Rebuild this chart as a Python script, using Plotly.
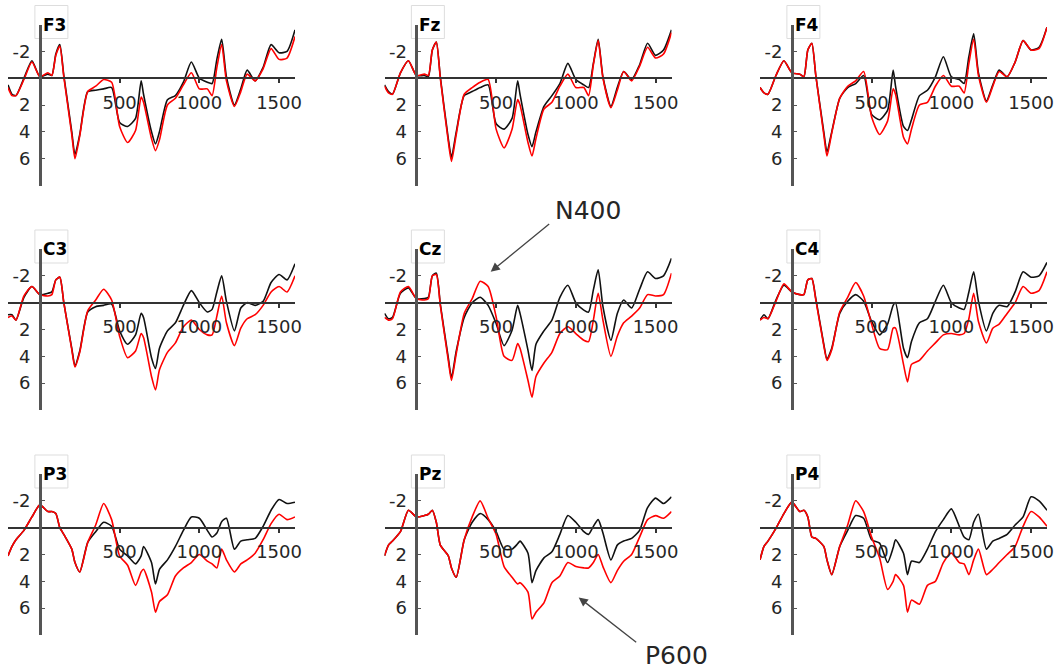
import plotly.graph_objects as go

# ---------------- data ----------------
TIME_MS = [-200, -175, -150, -100, -50, 0, 50, 75, 100, 125, 150, 200, 220, 250, 300, 350, 400, 450,
           500, 550, 600, 635, 650, 700, 725, 750, 800, 850, 900, 950, 1000, 1050, 1080, 1110, 1140,
           1170, 1220, 1260, 1300, 1350, 1400, 1450, 1500, 1550, 1600]

PANELS = ["F3", "Fz", "F4", "C3", "Cz", "C4", "P3", "Pz", "P4"]

F3_BLACK = [0.5, 1.2, 1.3, 0.0, -1.3, -0.1, -0.3, -0.2, -1.8, -2.5, -0.2, 4.0, 5.7, 4.2, 1.0, 0.9, 0.8, 0.7,
            3.3, 3.6, 3.0, 0.2, 1.2, 4.0, 4.9, 4.0, 1.6, 1.3, 0.3, -1.2, 0.0, 0.3, 0.4, -1.4, -2.9,
            -0.1, 2.0, 0.8, -0.6, 0.2, -0.8, -2.5, -1.9, -2.0, -3.6]
F3_RED = [0.7, 1.3, 1.3, 0.1, -1.2, -0.1, -0.4, -0.2, -1.7, -2.4, -0.1, 4.2, 6.0, 4.3, 1.0, 0.6, 0.1, 0.3,
          3.6, 4.8, 3.9, 1.4, 1.8, 4.5, 5.4, 4.6, 2.0, 1.5, 0.5, -0.4, 0.8, 0.8, 1.3, -0.8, -2.5,
          0.2, 2.1, 1.0, -0.3, 0.2, -0.7, -2.2, -1.4, -1.5, -3.1]

FZ_BLACK = [0.5, 1.0, 1.2, -0.4, -1.3, -0.2, -0.2, -0.1, -2.1, -2.7, -0.1, 4.5, 5.9, 4.0, 1.3, 1.0, 0.7, 0.5,
            3.4, 3.8, 3.0, 0.2, 1.2, 4.2, 5.1, 4.0, 2.1, 1.3, 0.4, -1.1, 0.1, 0.5, 0.7, -1.1, -2.9,
            -0.1, 2.1, 0.7, -0.5, 0.1, -1.0, -2.6, -1.7, -2.1, -3.6]
FZ_RED = [0.6, 1.1, 1.2, -0.4, -1.3, -0.2, -0.3, -0.2, -2.1, -2.7, 0.0, 4.7, 6.2, 4.2, 1.2, 0.7, 0.3, 0.1,
          3.8, 5.2, 3.8, 1.6, 2.0, 4.8, 5.8, 4.5, 2.3, 1.8, 0.6, -0.3, 0.7, 0.7, 1.3, -1.0, -2.8,
          0.0, 2.2, 0.9, -0.5, 0.2, -0.9, -2.3, -1.5, -1.8, -3.4]

F4_BLACK = [0.7, 1.1, 1.2, -0.2, -1.3, -0.4, -0.3, -0.1, -2.1, -2.6, -0.2, 4.0, 5.5, 4.0, 1.5, 0.7, 0.4, -0.2,
            2.7, 3.1, 2.4, -0.6, 0.6, 3.6, 3.9, 3.1, 1.3, 0.9, -0.1, -1.6, -0.1, 0.1, 0.4, -1.6, -3.3,
            -0.4, 1.7, 0.5, -0.6, -0.1, -1.2, -2.8, -2.1, -2.3, -3.8]
F4_RED = [0.7, 1.1, 1.2, -0.2, -1.3, -0.4, -0.3, -0.1, -2.1, -2.6, -0.2, 4.2, 5.8, 4.1, 1.5, 0.6, 0.2, -0.5,
          2.9, 4.2, 3.2, 0.8, 1.2, 4.4, 4.9, 3.8, 2.0, 1.8, 0.6, -0.2, 0.6, 0.6, 1.1, -1.1, -2.9,
          -0.2, 1.8, 0.6, -0.5, -0.1, -1.2, -2.8, -2.1, -2.2, -3.8]

C3_BLACK = [0.9, 0.9, 1.3, -0.4, -1.2, -0.6, -0.7, -0.8, -1.7, -1.9, 0.0, 3.4, 4.7, 3.6, 0.7, 0.3, 0.2, 0.1,
            2.1, 3.1, 2.4, 0.8, 1.1, 4.1, 4.9, 3.4, 2.1, 1.5, 0.2, -0.9, 0.0, 0.7, 0.5, -0.8, -2.0,
            -0.1, 2.1, 0.4, 0.0, 0.2, -0.1, -1.5, -2.1, -1.7, -2.9]
C3_RED = [1.1, 1.0, 1.3, -0.5, -1.2, -0.6, -0.5, -0.6, -1.7, -1.9, 0.0, 3.5, 4.8, 3.7, 0.6, -0.2, -1.0, -0.2,
          2.5, 4.1, 3.6, 2.3, 2.6, 5.5, 6.5, 5.0, 3.7, 3.0, 1.8, 1.3, 2.0, 2.4, 2.4, 1.0, -0.5,
          1.5, 3.2, 1.9, 1.2, 0.9, 0.2, -0.8, -1.2, -0.8, -2.0]

CZ_BLACK = [0.8, 1.2, 1.1, -0.7, -1.1, -0.3, -0.3, -0.4, -2.0, -2.2, 0.1, 4.1, 5.6, 3.6, 1.1, 0.0, -0.4, 0.2,
            1.55, 3.2, 2.05, 0.2, 0.8, 3.55, 5.05, 3.1, 2.1, 1.3, -0.4, -1.3, 0.0, 0.55, 0.7, -0.95, -2.45,
            0.3, 2.8, 0.8, -0.2, 0.4, -1.0, -2.3, -1.8, -2.0, -3.3]
CZ_RED = [1.1, 1.3, 1.2, -0.8, -1.2, -0.3, -0.2, -0.3, -2.0, -2.1, 0.2, 4.3, 5.8, 3.8, 0.8, -0.3, -1.6, -1.2,
          1.05, 4.0, 4.3, 3.05, 3.4, 5.8, 7.05, 5.5, 4.5, 3.7, 2.3, 1.8, 2.3, 2.8, 2.9, 1.3, -0.7,
          1.3, 4.0, 2.5, 1.5, 1.0, 0.4, -0.6, -0.5, -0.6, -2.2]

C4_BLACK = [1.3, 0.9, 1.2, -0.2, -1.3, -0.8, -0.6, -0.6, -1.7, -1.8, -0.3, 3.1, 4.2, 3.4, 0.8, -0.1, -0.6, -0.1,
            1.4, 2.4, 1.6, 0.2, 0.0, 3.4, 4.1, 2.9, 1.5, 1.2, -0.1, -1.3, 0.0, 0.4, 0.5, -0.8, -2.3,
            -0.1, 2.1, 0.8, 0.2, 0.3, -0.8, -2.3, -1.9, -2.0, -3.0]
C4_RED = [1.3, 1.1, 1.2, -0.1, -1.4, -0.8, -0.6, -0.6, -1.7, -1.8, -0.2, 3.2, 4.3, 3.5, 0.7, -0.4, -1.5, -0.5,
          1.6, 3.4, 3.5, 1.9, 1.9, 4.6, 5.9, 4.6, 4.3, 3.6, 3.0, 2.4, 2.3, 2.4, 2.3, 1.2, -0.7,
          1.4, 3.0, 1.9, 1.6, 0.8, 0.0, -1.2, -0.7, -0.9, -2.3]

P3_BLACK = [2.1, 1.4, 0.9, 0.2, -0.8, -1.7, -1.2, -1.2, -1.05, 0.0, 0.5, 1.6, 2.6, 3.3, 1.1, 0.3, -0.4, -0.1,
            1.6, 2.1, 2.7, 2.1, 1.4, 2.6, 4.2, 3.1, 2.4, 1.4, 0.2, -0.8, -0.7, 0.2, 0.7, 0.4, -0.45,
            -0.7, 1.6, 1.0, 0.9, 0.8, -0.1, -1.3, -2.1, -1.8, -1.9]
P3_RED = [2.1, 1.4, 0.9, 0.2, -0.8, -1.7, -1.2, -1.2, -1.05, 0.0, 0.5, 1.6, 2.6, 3.3, 1.1, -0.2, -1.8, -0.6,
          2.1, 2.8, 4.3, 3.3, 3.1, 4.8, 6.3, 5.5, 5.0, 3.6, 3.0, 2.6, 2.0, 2.5, 2.7, 3.0, 1.6,
          2.4, 3.3, 2.7, 2.4, 1.9, 0.9, -0.3, -1.0, -0.6, -0.8]

PZ_BLACK = [2.1, 1.3, 1.0, 0.3, -1.3, -0.8, -0.9, -1.0, -1.3, -0.4, 1.3, 2.1, 3.0, 3.7, 0.9, -0.4, -1.05, -0.6,
            0.3, 1.6, 1.6, 1.2, 1.0, 1.9, 4.1, 3.2, 2.25, 1.8, 0.5, -0.9, -0.4, 0.3, 0.5, -0.1, -0.6,
            0.4, 2.4, 1.3, 1.0, 0.8, 0.2, -1.5, -2.2, -1.8, -2.3]
PZ_RED = [2.1, 1.3, 1.0, 0.3, -1.3, -0.8, -0.9, -1.0, -1.3, -0.4, 1.3, 2.1, 3.0, 3.7, 0.9, -0.8, -2.0, -0.7,
          0.5, 2.9, 3.7, 4.2, 4.1, 4.8, 6.8, 6.3, 5.6, 4.1, 3.6, 2.6, 2.9, 3.0, 3.0, 2.6, 2.0,
          2.9, 4.1, 3.2, 2.5, 2.0, 0.7, -0.6, -0.9, -0.7, -1.2]

P4_BLACK = [2.4, 1.4, 1.0, 0.05, -1.05, -1.9, -1.2, -1.3, -0.8, 0.7, 0.8, 1.4, 2.4, 3.5, 1.4, 0.2, -0.9, -0.7,
            0.9, 1.15, 2.6, 1.5, 0.9, 1.9, 3.5, 2.5, 2.6, 1.6, 0.3, -0.6, -1.4, -0.1, 0.7, 0.9, -0.4,
            -1.0, 1.6, 1.0, 0.8, 0.5, -0.2, -0.8, -2.3, -2.0, -1.3]
P4_RED = [2.4, 1.4, 1.0, 0.05, -1.05, -1.9, -1.2, -1.3, -0.8, 0.7, 0.8, 1.4, 2.4, 3.5, 1.4, -0.2, -2.0, -1.2,
          0.7, 2.25, 4.6, 4.0, 3.5, 4.3, 6.3, 5.4, 5.7, 4.3, 4.0, 2.6, 1.9, 2.6, 2.7, 3.5, 2.4,
          1.6, 3.5, 3.1, 2.6, 2.0, 1.4, -0.1, -1.2, -0.8, -0.1]

BLACK_SERIES = [F3_BLACK, FZ_BLACK, F4_BLACK, C3_BLACK, CZ_BLACK, C4_BLACK, P3_BLACK, PZ_BLACK, P4_BLACK]
RED_SERIES = [F3_RED, FZ_RED, F4_RED, C3_RED, CZ_RED, C4_RED, P3_RED, PZ_RED, P4_RED]

X_TICKS = [500, 1000, 1500]
Y_TICKS = [-2, 2, 4, 6]
Y_TICK_TEXT = ["-2", "2", "4", "6"]

# ---------------- layout ----------------
W, H = 1060, 672
COL_LEFT_PX = [8, 384.5, 760]
ROW_TOP_PX = [24.5, 249, 474]
PW, PH = 287, 161
X_RANGE = [-200, 1600]
Y_RANGE = [8, -4]   # negative up
FONT = "DejaVu Sans"
TXT = "#262626"
AXIS_COL = "#333333"

fig = go.Figure()
shapes, annotations = [], []
layout_axes = {}

for i, name in enumerate(PANELS):
    r, c = divmod(i, 3)
    left, top = COL_LEFT_PX[c], ROW_TOP_PX[r]
    x0, x1 = left / W, (left + PW) / W
    y1, y0 = 1 - top / H, 1 - (top + PH) / H
    x_at_zero = x0 + (0 - X_RANGE[0]) / (X_RANGE[1] - X_RANGE[0]) * (x1 - x0)
    y_at_zero = y0 + (Y_RANGE[0] - 0) / (Y_RANGE[0] - Y_RANGE[1]) * (y1 - y0)
    sfx = "" if i == 0 else str(i + 1)

    layout_axes["xaxis" + sfx] = dict(
        domain=[x0, x1], range=X_RANGE, anchor="free", position=y_at_zero, automargin=False,
        showline=True, linecolor=AXIS_COL, linewidth=2, showgrid=False, zeroline=False,
        tickvals=X_TICKS, ticks="outside", ticklen=4, tickcolor=AXIS_COL, tickwidth=1.5,
        ticklabelstandoff=4, tickfont=dict(family=FONT, size=18, color=TXT))
    layout_axes["yaxis" + sfx] = dict(
        domain=[y0, y1], range=Y_RANGE, anchor="free", position=x_at_zero, automargin=False,
        showline=True, linecolor="#555555", linewidth=2.5, showgrid=False, zeroline=False,
        tickvals=Y_TICKS, ticktext=Y_TICK_TEXT, ticks="inside", ticklen=3,
        tickcolor="#555555", ticklabelstandoff=5, tickfont=dict(family=FONT, size=18, color=TXT))

    fig.add_trace(go.Scatter(x=TIME_MS, y=BLACK_SERIES[i], mode="lines",
                             line=dict(color="#111111", width=1.6, shape="spline", smoothing=0.6),
                             xaxis="x" + sfx, yaxis="y" + sfx, showlegend=False, hoverinfo="skip"))
    fig.add_trace(go.Scatter(x=TIME_MS, y=RED_SERIES[i], mode="lines",
                             line=dict(color="#ff0000", width=1.6, shape="spline", smoothing=0.6),
                             xaxis="x" + sfx, yaxis="y" + sfx, showlegend=False, hoverinfo="skip"))

    # label box
    shapes.append(dict(type="rect", xref="paper", yref="paper", layer="below",
                       x0=x_at_zero - 5 / W, x1=x_at_zero + 28 / W,
                       y0=1 - (top + 14) / H, y1=1 - (top - 19) / H,
                       line=dict(color="#dddddd", width=1), fillcolor="white"))
    annotations.append(dict(text="<b>%s</b>" % name, xref="paper", yref="paper",
                            x=x_at_zero + 1 / W, y=1 - top / H, xanchor="left", yanchor="middle",
                            showarrow=False, font=dict(family=FONT, size=17, color="black")))

# component callouts
annotations += [
    dict(text="N400", xref="paper", yref="paper", x=588 / W, y=1 - 210 / H,
         xanchor="center", yanchor="middle", showarrow=False,
         font=dict(family=FONT, size=25, color=TXT)),
    dict(text="", xref="x5", yref="y5", x=466, y=-2.3, ax=60, ay=-49, showarrow=True,
         arrowhead=2, arrowsize=1.4, arrowwidth=1.3, arrowcolor="#444444"),
    dict(text="P600", xref="paper", yref="paper", x=676 / W, y=1 - 655 / H,
         xanchor="center", yanchor="middle", showarrow=False,
         font=dict(family=FONT, size=25, color=TXT)),
    dict(text="", xref="x8", yref="y8", x=1018, y=5.2, ax=59, ay=46, showarrow=True,
         arrowhead=2, arrowsize=1.4, arrowwidth=1.3, arrowcolor="#444444"),
]

fig.update_layout(width=W, height=H, margin=dict(l=0, r=0, t=0, b=0, autoexpand=False),
                  paper_bgcolor="white", plot_bgcolor="rgba(0,0,0,0)",
                  shapes=shapes, annotations=annotations, **layout_axes)

fig.write_html("out.html")
